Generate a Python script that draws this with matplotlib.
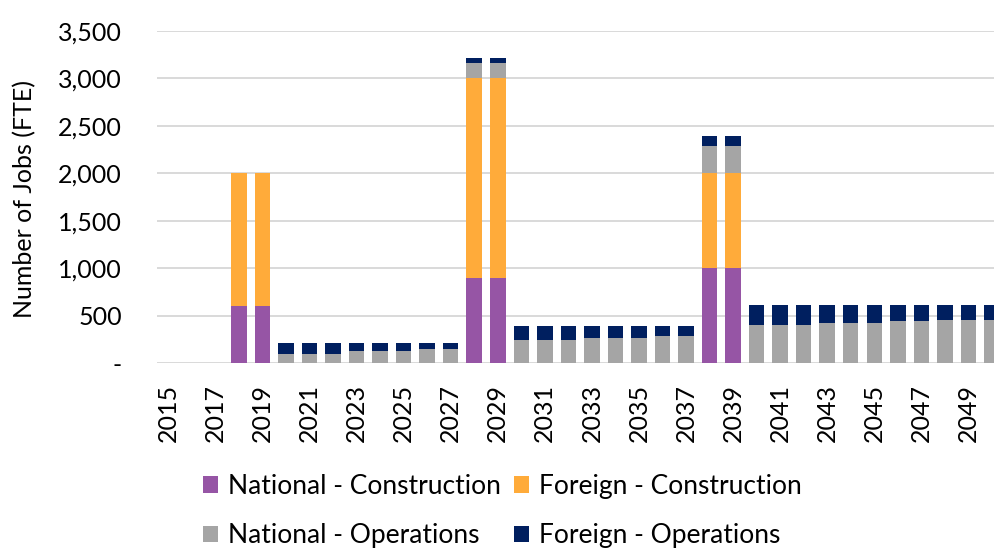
import matplotlib
matplotlib.use("Agg")
import matplotlib.pyplot as plt
from matplotlib.ticker import FuncFormatter, FixedLocator
import numpy as np

years = list(range(2015, 2051))

national_construction = [0, 0, 0, 600, 600, 0, 0, 0, 0, 0, 0, 0, 0, 900, 900,
                         0, 0, 0, 0, 0, 0, 0, 0, 1000, 1000,
                         0, 0, 0, 0, 0, 0, 0, 0, 0, 0, 0]
foreign_construction = [0, 0, 0, 1400, 1400, 0, 0, 0, 0, 0, 0, 0, 0, 2100, 2100,
                        0, 0, 0, 0, 0, 0, 0, 0, 1000, 1000,
                        0, 0, 0, 0, 0, 0, 0, 0, 0, 0, 0]
national_operations = [0, 0, 0, 0, 0, 100, 100, 100, 123, 123, 123, 145, 145, 160, 160,
                       245, 245, 245, 262, 262, 262, 280, 280, 285, 285,
                       400, 400, 400, 420, 420, 420, 440, 440, 458, 458, 458]
foreign_operations = [0, 0, 0, 0, 0, 115, 115, 115, 92, 92, 92, 70, 70, 60, 60,
                      140, 140, 140, 123, 123, 123, 105, 105, 105, 105,
                      210, 210, 210, 190, 190, 190, 170, 170, 152, 152, 152]

series_names = ["National - Construction", "Foreign - Construction",
                "National - Operations", "Foreign - Operations"]
series_colors = ["#9655A5", "#FFAB3A", "#A5A5A5", "#001F5F"]
y_ticks = [0, 500, 1000, 1500, 2000, 2500, 3000, 3500]
x_tick_years = list(range(2015, 2050, 2))

plt.rcParams['font.family'] = ['Lato', 'DejaVu Sans']

fig = plt.figure(figsize=(9.95, 5.48), dpi=100)
W, H = 995, 548
ax = fig.add_axes([156.6 / W, 1 - 363 / H, (W - 156.6) / W, (363 - 31) / H])

series = [national_construction, foreign_construction, national_operations, foreign_operations]
bottom = np.zeros(len(years))
handles = []
for vals, name, col in zip(series, series_names, series_colors):
    v = np.array(vals, dtype=float)
    b = ax.bar(years, v, width=0.66, bottom=bottom, color=col, label=name,
               zorder=3, linewidth=0)
    handles.append(b)
    bottom += v

ax.set_xlim(2014.5, 2014.5 + (W - 156.6) / 23.53)
ax.set_ylim(0, 3500)
ax.yaxis.set_major_locator(FixedLocator(y_ticks))
ax.yaxis.set_major_formatter(FuncFormatter(lambda v, p: "-" if v == 0 else f"{int(v):,}"))
ax.xaxis.set_major_locator(FixedLocator(x_tick_years))
ax.set_xticklabels([str(y) for y in x_tick_years], rotation=90, va='top', ha='center')

ax.grid(axis='y', color='#D9D9D9', linewidth=1.4, zorder=0)
ax.set_axisbelow(True)
for s in ax.spines.values():
    s.set_visible(False)
ax.tick_params(axis='both', length=0, labelsize=18, colors='black')
ax.tick_params(axis='y', pad=25)
ax.tick_params(axis='x', pad=15)

fig.text(25 / W, 1 - 199.5 / H, "Number of Jobs (FTE)", rotation=90,
         ha='center', va='center', fontsize=18)

order = [0, 2, 1, 3]
leg = fig.legend([handles[i] for i in order], [series_names[i] for i in order],
                 ncol=2, loc='upper left', bbox_to_anchor=(203 / W, 1 - 474 / H),
                 frameon=False, fontsize=19, borderpad=0, borderaxespad=0,
                 handlelength=0.58, handleheight=0.58, handletextpad=0.37,
                 columnspacing=0.5, labelspacing=0.92)

fig.savefig("out.png", dpi=100)
